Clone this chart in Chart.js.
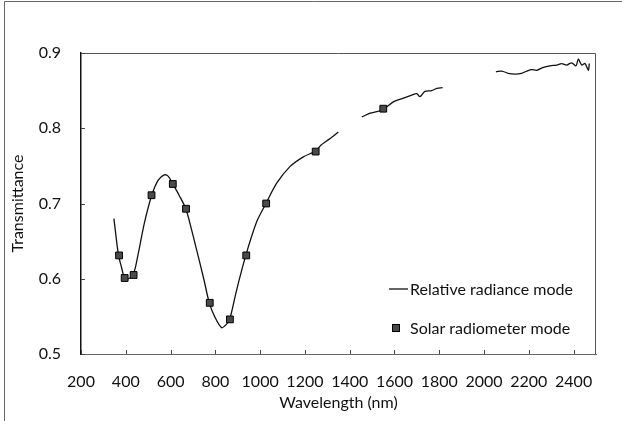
<!DOCTYPE html>
<html>
<head>
<meta charset="utf-8">
<script src="https://cdn.jsdelivr.net/npm/chart.js@4.4.1/dist/chart.umd.min.js"></script>
<style>
  html, body { margin: 0; padding: 0; background: #fff; }
  #wrap { position: relative; width: 622px; height: 421px; }
</style>
</head>
<body>
<div id="wrap"><canvas id="chart"></canvas></div>
<script>
// relative radiance mode, null = gap in the measured spectrum
const relWavelength = [
  347, 367, 382, 393, 411, 434, 456, 483, 516, 545, 572, 590, 610, 638, 668, 694, 720, 748, 773,
  798, 828, 851, 865, 895, 937, 985, 1026, 1074, 1133, 1193, 1250, 1270, 1297, 1320, 1349,
  1400,
  1454, 1491, 1521, 1550, 1595, 1640, 1677, 1699, 1714, 1736, 1766, 1789, 1815,
  1930,
  2053, 2079, 2108, 2138, 2168, 2191, 2213, 2235, 2265, 2295, 2325, 2347, 2369, 2391, 2411, 2421, 2436, 2451, 2466, 2470
];
const relTransmittance = [
  0.680, 0.632, 0.614, 0.602, 0.600, 0.606, 0.634, 0.674, 0.711, 0.731, 0.738, 0.736, 0.726, 0.711, 0.693, 0.665, 0.634, 0.600, 0.568,
  0.549, 0.535, 0.540, 0.547, 0.585, 0.632, 0.676, 0.700, 0.727, 0.749, 0.762, 0.770, 0.777, 0.783, 0.788, 0.795,
  null,
  0.815, 0.820, 0.822, 0.825, 0.835, 0.840, 0.844, 0.846, 0.842, 0.849, 0.850, 0.853, 0.854,
  null,
  0.875, 0.876, 0.873, 0.872, 0.873, 0.876, 0.878, 0.877, 0.881, 0.883, 0.884, 0.886, 0.884, 0.887, 0.883, 0.892, 0.884, 0.886, 0.877, 0.886
];

// solar radiometer mode
const solarWavelength = [370, 395, 435, 515, 610, 669, 775, 865, 938, 1027, 1248, 1550];
const solarTransmittance = [0.631, 0.601, 0.605, 0.711, 0.726, 0.693, 0.568, 0.546, 0.631, 0.700, 0.769, 0.826];

const xTicks = [200, 400, 600, 800, 1000, 1200, 1400, 1600, 1800, 2000, 2200, 2400];
const yTicks = [0.5, 0.6, 0.7, 0.8, 0.9];

const FONT = "Lato, 'Open Sans', sans-serif";
const TEXT = "#111";

const relData = relWavelength.map(function (w, i) { return { x: w, y: relTransmittance[i] }; });
const solarData = solarWavelength.map(function (w, i) { return { x: w, y: solarTransmittance[i] }; });

// frame, inner tick marks, outer border and legend
const decor = {
  id: "decor",
  afterDraw(chart) {
    const ctx = chart.ctx;
    const a = chart.chartArea;
    const xs = chart.scales.x, ys = chart.scales.y;
    ctx.save();
    // outer chart border (left + top visible)
    ctx.strokeStyle = "#666";
    ctx.lineWidth = 1;
    ctx.beginPath();
    ctx.moveTo(4.5, 421);
    ctx.lineTo(4.5, 1.5);
    ctx.lineTo(622, 1.5);
    ctx.stroke();
    // plot frame top/right
    ctx.strokeStyle = "#555";
    ctx.beginPath();
    ctx.moveTo(a.left, a.top + 0.5);
    ctx.lineTo(a.right - 0.5, a.top + 0.5);
    ctx.lineTo(a.right - 0.5, a.bottom);
    ctx.stroke();
    // inner ticks
    ctx.strokeStyle = "#444";
    ctx.beginPath();
    xTicks.forEach(function (v) {
      const px = Math.round(xs.getPixelForValue(v)) + 0.5;
      ctx.moveTo(px, a.bottom);
      ctx.lineTo(px, a.bottom - 4);
    });
    yTicks.forEach(function (v) {
      const py = Math.round(ys.getPixelForValue(v)) + 0.5;
      ctx.moveTo(a.left, py);
      ctx.lineTo(a.left + 4, py);
    });
    ctx.stroke();
    // legend
    const lx = a.right - 207;
    ctx.font = "16px " + FONT;
    ctx.fillStyle = TEXT;
    ctx.textBaseline = "middle";
    ctx.strokeStyle = "#111";
    ctx.lineWidth = 1.3;
    ctx.beginPath();
    ctx.moveTo(lx, a.bottom - 65);
    ctx.lineTo(lx + 19, a.bottom - 65);
    ctx.stroke();
    ctx.fillText("Relative radiance mode", lx + 21, a.bottom - 64);
    ctx.fillStyle = "#4a4a4a";
    ctx.fillRect(lx + 3, a.bottom - 30, 8, 8);
    ctx.strokeStyle = "#000";
    ctx.lineWidth = 1;
    ctx.strokeRect(lx + 3.5, a.bottom - 29.5, 7, 7);
    ctx.fillStyle = TEXT;
    ctx.fillText("Solar radiometer mode", lx + 21, a.bottom - 25);
    ctx.restore();
  }
};

new Chart(document.getElementById("chart"), {
  type: "scatter",
  data: {
    datasets: [
      {
        label: "Solar radiometer mode",
        data: solarData,
        showLine: false,
        pointStyle: "rect",
        pointRadius: 4.8,
        pointBackgroundColor: "#4a4a4a",
        pointBorderColor: "#000",
        pointBorderWidth: 1,
        order: 0
      },
      {
        label: "Relative radiance mode",
        data: relData,
        showLine: true,
        spanGaps: false,
        borderColor: "#111",
        borderWidth: 1.3,
        pointRadius: 0,
        tension: 0.3,
        order: 1
      }
    ]
  },
  options: {
    responsive: true,
    maintainAspectRatio: false,
    animation: false,
    layout: { padding: { left: 0, right: 26, top: 53, bottom: 0 } },
    plugins: {
      legend: { display: false },
      tooltip: { enabled: false }
    },
    scales: {
      x: {
        type: "linear",
        min: 200,
        max: 2500,
        afterBuildTicks: function (scale) {
          scale.ticks = xTicks.map(function (v) { return { value: v }; });
        },
        afterFit: function (scale) { scale.height = 67; },
        grid: { display: false, drawTicks: false },
        border: { display: true, color: "#666", width: 1 },
        ticks: {
          padding: 18,
          color: TEXT,
          font: { family: FONT, size: 16 },
          maxRotation: 0,
          autoSkip: false,
          callback: function (v) { return String(v); }
        },
        title: {
          display: true,
          text: "Wavelength (nm)",
          color: TEXT,
          font: { family: FONT, size: 16 },
          padding: { top: 0, bottom: 9 }
        }
      },
      y: {
        min: 0.5,
        max: 0.9,
        afterBuildTicks: function (scale) {
          scale.ticks = yTicks.map(function (v) { return { value: v }; });
        },
        afterFit: function (scale) { scale.width = 81; },
        grid: { display: false, drawTicks: false },
        border: { display: true, color: "#111", width: 1.5 },
        ticks: {
          padding: 20,
          color: TEXT,
          font: { family: FONT, size: 16 },
          callback: function (v) { return Number(v).toFixed(1); }
        },
        title: {
          display: true,
          text: "Transmittance",
          color: TEXT,
          font: { family: FONT, size: 16 },
          padding: { top: 8, bottom: 0 }
        }
      }
    }
  },
  plugins: [decor]
});
</script>
</body>
</html>
